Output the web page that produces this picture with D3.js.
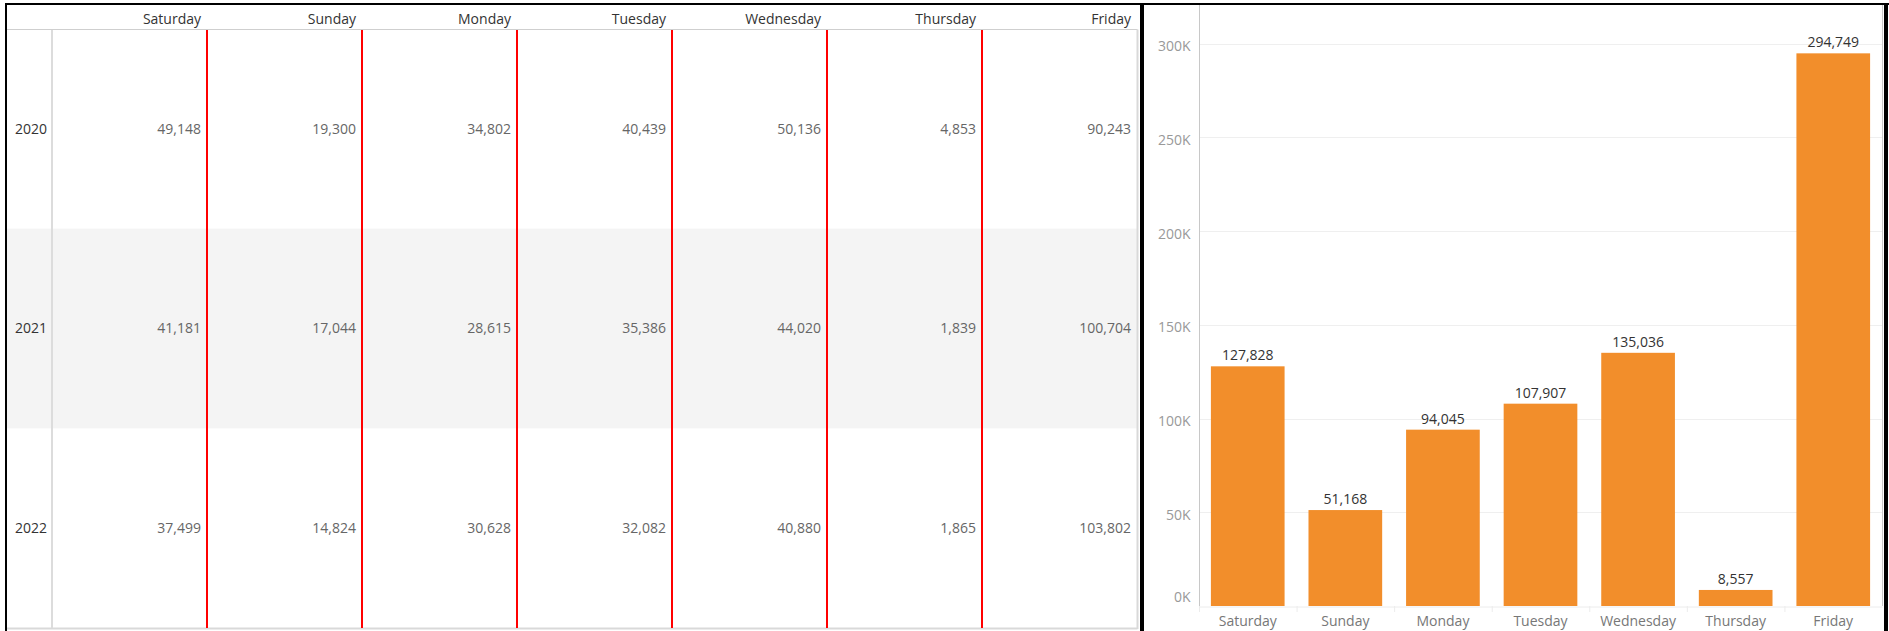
<!DOCTYPE html>
<html>
<head>
<meta charset="utf-8">
<script src="https://cdn.jsdelivr.net/npm/d3@7"></script>
<style>
  html, body { margin: 0; padding: 0; background: #fff; }
  svg { display: block; font-family: "Open Sans", sans-serif; }
</style>
</head>
<body>
<svg id="chart" width="1889" height="631"></svg>
<script>
const days = ["Saturday", "Sunday", "Monday", "Tuesday", "Wednesday", "Thursday", "Friday"];
const years = ["2020", "2021", "2022"];
const values2020 = [49148, 19300, 34802, 40439, 50136, 4853, 90243];
const values2021 = [41181, 17044, 28615, 35386, 44020, 1839, 100704];
const values2022 = [37499, 14824, 30628, 32082, 40880, 1865, 103802];
const totals = [127828, 51168, 94045, 107907, 135036, 8557, 294749];
const yTicks = [0, 50000, 100000, 150000, 200000, 250000, 300000];

const tableRows = [values2020, values2021, values2022];
const fmt = d3.format(",");
const svg = d3.select("#chart");

// ---------- Left: text table ----------
const col = d3.scaleBand().domain(days).range([52, 1137]);
const row = d3.scaleBand().domain(years).range([29, 628]);

// banded row
svg.append("rect")
  .attr("x", 7).attr("y", row("2021"))
  .attr("width", 1137 - 7).attr("height", row.bandwidth())
  .attr("fill", "#f4f4f4");

// header bottom line, bottom line, right line
svg.append("line").attr("x1", 7).attr("x2", 1137.5).attr("y1", 29.5).attr("y2", 29.5)
  .attr("stroke", "#cfcfcf").attr("stroke-width", 1);
svg.append("line").attr("x1", 7).attr("x2", 1137.5).attr("y1", 628.5).attr("y2", 628.5)
  .attr("stroke", "#d9d9d9").attr("stroke-width", 2);
svg.append("line").attr("x1", 1137.5).attr("x2", 1137.5).attr("y1", 29.5).attr("y2", 629)
  .attr("stroke", "#d9d9d9").attr("stroke-width", 2);
// row header divider
svg.append("line").attr("x1", 52).attr("x2", 52).attr("y1", 30).attr("y2", 628)
  .attr("stroke", "#dcdcdc").attr("stroke-width", 2);

// red column separators
svg.append("g").selectAll("line")
  .data(days.slice(0, days.length - 1))
  .join("line")
  .attr("x1", d => col(d) + col.bandwidth())
  .attr("x2", d => col(d) + col.bandwidth())
  .attr("y1", 30).attr("y2", 628)
  .attr("stroke", "#ff0000").attr("stroke-width", 2);

// column headers
svg.append("g").selectAll("text")
  .data(days)
  .join("text")
  .attr("x", d => col(d) + col.bandwidth() - 6)
  .attr("y", 19)
  .attr("dy", "0.35em")
  .attr("text-anchor", "end")
  .attr("font-size", 14)
  .attr("font-weight", 500)
  .attr("fill", "#333")
  .text(d => d);

// row headers
svg.append("g").selectAll("text")
  .data(years)
  .join("text")
  .attr("x", 15)
  .attr("y", d => row(d) + row.bandwidth() / 2)
  .attr("dy", "0.35em")
  .attr("font-size", 14)
  .attr("font-weight", 500)
  .attr("fill", "#333")
  .text(d => d);

// cell values
years.forEach((yr, i) => {
  svg.append("g").selectAll("text")
    .data(tableRows[i])
    .join("text")
    .attr("x", (d, j) => col(days[j]) + col.bandwidth() - 6)
    .attr("y", row(yr) + row.bandwidth() / 2)
    .attr("dy", "0.35em")
    .attr("text-anchor", "end")
    .attr("font-size", 14)
    .attr("fill", "#666")
    .text(d => fmt(d));
});

// ---------- Right: bar chart ----------
const x = d3.scaleBand().domain(days).range([1199, 1882]).paddingInner(0.245).paddingOuter(0.122);
const xb = d3.scaleBand().domain(days).range([1199, 1882]);
const y = d3.scaleLinear().domain([0, 320000]).range([606, 6]);

// gridlines
svg.append("g").selectAll("line")
  .data(yTicks.filter(t => t > 0))
  .join("line")
  .attr("x1", 1199).attr("x2", 1882)
  .attr("y1", d => Math.round(y(d)) + 0.5).attr("y2", d => Math.round(y(d)) + 0.5)
  .attr("stroke", "#efefef").attr("stroke-width", 1);

// bars
svg.append("g").selectAll("rect")
  .data(totals)
  .join("rect")
  .attr("x", (d, i) => x(days[i]))
  .attr("width", x.bandwidth())
  .attr("y", d => y(d))
  .attr("height", d => y(0) - y(d))
  .attr("fill", "#f28e2b");

// bar labels
svg.append("g").selectAll("text")
  .data(totals)
  .join("text")
  .attr("x", (d, i) => x(days[i]) + x.bandwidth() / 2)
  .attr("y", d => y(d) - 6)
  .attr("text-anchor", "middle")
  .attr("font-size", 14)
  .attr("fill", "#333")
  .text(d => fmt(d));

// y axis
const yAxis = svg.append("g").attr("transform", "translate(1199.5,0)")
  .call(d3.axisLeft(y).tickValues(yTicks).tickSize(0).tickPadding(9)
    .tickFormat(d => (d / 1000) + "K"));
yAxis.select(".domain").attr("stroke", "#c8c8c8").attr("d", "M0,5V606");
yAxis.selectAll("text")
  .attr("font-family", "Open Sans, sans-serif")
  .attr("font-size", 14)
  .attr("fill", "#999")
  .attr("dy", d => d === 0 ? "-0.3em" : "0.5em");

// x axis
const xAxis = svg.append("g").attr("transform", "translate(0,606.5)")
  .call(d3.axisBottom(xb).tickSize(0).tickPadding(10));
xAxis.select(".domain").attr("stroke", "#ececec");
xAxis.selectAll("text")
  .attr("font-family", "Open Sans, sans-serif")
  .attr("font-size", 14)
  .attr("fill", "#777");
// boundary ticks
svg.append("g").selectAll("line")
  .data(days)
  .join("line")
  .attr("x1", d => xb(d) + 0.5).attr("x2", d => xb(d) + 0.5)
  .attr("y1", 606).attr("y2", 612)
  .attr("stroke", "#ececec");

// right gray frame line
svg.append("line").attr("x1", 1882.5).attr("x2", 1882.5).attr("y1", 5).attr("y2", 606)
  .attr("stroke", "#c8c8c8").attr("stroke-width", 1);

// ---------- black frames ----------
svg.append("rect").attr("x", 5).attr("y", 3).attr("width", 1884).attr("height", 2).attr("fill", "#000");
svg.append("rect").attr("x", 5).attr("y", 3).attr("width", 2).attr("height", 628).attr("fill", "#000");
svg.append("rect").attr("x", 1140).attr("y", 3).attr("width", 4).attr("height", 628).attr("fill", "#000");
svg.append("rect").attr("x", 1884).attr("y", 3).attr("width", 4).attr("height", 628).attr("fill", "#000");
</script>
</body>
</html>
